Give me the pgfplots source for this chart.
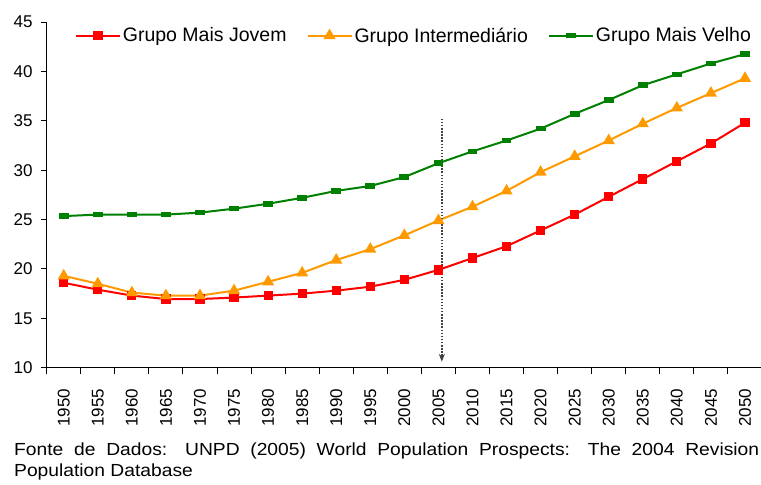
\documentclass[border=0pt]{standalone}
\usepackage{pgfplots}
\pgfplotsset{compat=1.18}
\usepackage{fontspec}
\setmainfont{Liberation Sans}
\newfontfamily\widefont[FakeStretch=1.1]{Liberation Sans}
\usetikzlibrary{arrows.meta}
\definecolor{cred}{HTML}{FF0000}
\definecolor{corange}{HTML}{FF9900}
\definecolor{cgreen}{HTML}{008000}
\definecolor{cdark}{HTML}{404040}
\begin{document}
\begin{tikzpicture}
\useasboundingbox (-46.7bp,-117.3bp) rectangle (714.3bp,367.7bp);
\begin{axis}[
  scale only axis,
  width=715.3bp, height=345.7bp,
  xmin=-0.5, xmax=20.5,
  ymin=10, ymax=45,
  axis x line=bottom, axis y line=left,
  axis line style={-, black, line width=0.9bp},
  x axis line style={-},
  y axis line style={-},
  xtick={0,...,20},
  xticklabels={1950,1955,1960,1965,1970,1975,1980,1985,1990,1995,2000,2005,2010,2015,2020,2025,2030,2035,2040,2045,2050},
  minor xtick={-0.5,0.5,...,20.5},
  ytick={10,15,...,45},
  tick align=outside,
  x tick style={draw=none},
  minor x tick style={draw=black, line width=0.9bp},
  minor tick length=6bp,
  y tick style={black, line width=0.9bp},
  major tick length=6bp,
  /pgf/number format/assume math mode=true,
  yticklabel style={font=\fontsize{17bp}{20bp}\selectfont, anchor=east, inner sep=0pt, xshift=-8bp},
  xticklabel style={font=\fontsize{17bp}{20bp}\selectfont, rotate=90, anchor=east, inner sep=0pt},
  xticklabel shift=15bp,
  legend columns=3,
  legend style={draw=none, fill=none, at={(axis description cs:0,1)}, anchor=north west,
    xshift=28bp, yshift=-3.5bp, inner sep=0pt,
    font=\fontsize{19.5bp}{22bp}\selectfont,
    /tikz/every even column/.append style={column sep=18bp}},
  legend cell align=left,
  legend image code/.code={\draw[mark repeat=2,mark phase=2] plot coordinates {(0bp,0bp) (22bp,0bp) (44bp,0bp)};},
  clip=false,
]
\addplot[cred, line width=2bp, mark=square*, mark size=3.6bp, mark options={solid}] coordinates {
(0,18.6) (1,17.9) (2,17.3) (3,16.95) (4,16.95) (5,17.1) (6,17.3) (7,17.5) (8,17.8) (9,18.2) (10,18.9) (11,19.9) (12,21.1) (13,22.3) (14,23.9) (15,25.5) (16,27.3) (17,29.1) (18,30.9) (19,32.7) (20,34.8)};
\addlegendentry{Grupo Mais Jovem}
\addplot[corange, line width=2bp, mark=triangle*, mark size=5bp, mark options={solid}] coordinates {
(0,19.3) (1,18.5) (2,17.6) (3,17.3) (4,17.3) (5,17.8) (6,18.7) (7,19.6) (8,20.9) (9,22.0) (10,23.4) (11,24.9) (12,26.3) (13,27.9) (14,29.8) (15,31.4) (16,33.0) (17,34.7) (18,36.3) (19,37.8) (20,39.3)};
\addlegendentry{Grupo Intermediário}
\addplot[cgreen, line width=2bp, mark=square*, mark size=3bp, mark options={solid, xscale=1.3, yscale=0.6}] coordinates {
(0,25.35) (1,25.5) (2,25.5) (3,25.5) (4,25.7) (5,26.1) (6,26.6) (7,27.2) (8,27.9) (9,28.4) (10,29.3) (11,30.7) (12,31.9) (13,33.0) (14,34.2) (15,35.7) (16,37.1) (17,38.6) (18,39.7) (19,40.8) (20,41.75)};
\addlegendentry{Grupo Mais Velho}
\draw[cdark, line width=1.5bp, dash pattern=on 1.5bp off 1.6bp, -{Stealth[length=8bp,width=6bp,fill=cdark]}] (axis cs:11.1,35.2) -- (axis cs:11.1,10.6);
\end{axis}
\node[anchor=base west, inner sep=0pt, font=\widefont\fontsize{17.5bp}{20bp}\selectfont] at (-32.7bp,-87.3bp) {\makebox[745bp][s]{Fonte de Dados: UNPD (2005) World Population Prospects: The 2004 Revision}};
\node[anchor=base west, inner sep=0pt, font=\widefont\fontsize{17.5bp}{20bp}\selectfont] at (-32.7bp,-109bp) {Population Database};
\end{tikzpicture}
\end{document}
